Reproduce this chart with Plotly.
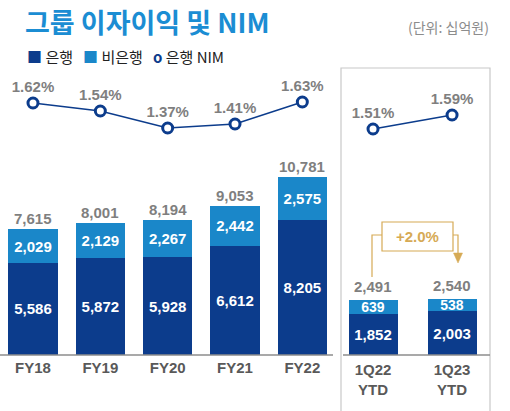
import plotly.graph_objects as go

# ---------------- data ----------------
fy_labels = ["FY18", "FY19", "FY20", "FY21", "FY22"]
fy_bank = [5586, 5872, 5928, 6612, 8205]
fy_nonbank = [2029, 2129, 2267, 2442, 2575]
fy_total = [7615, 8001, 8194, 9053, 10781]
fy_nim = [1.62, 1.54, 1.37, 1.41, 1.63]

q_labels = ["1Q22<br>YTD", "1Q23<br>YTD"]
q_bank = [1852, 2003]
q_nonbank = [639, 538]
q_total = [2491, 2540]
q_nim = [1.51, 1.59]

growth_label = "+2.0%"

# ---------------- styles ----------------
W, H = 510, 411
C_BANK = "#0C3C8C"
C_NONBANK = "#1A87C9"
C_NIM = "#0C3C8C"
C_GRAY = "#7F7F7F"
C_TICK = "#595959"
C_GOLD = "#D6AA55"
C_TITLE = "#1B8DD3"
NUM_FONT = "Liberation Sans, Arial, sans-serif"
KR_FONT = "Noto Sans CJK KR, Noto Sans, sans-serif"


def px_x(p):
    return p / W


def px_y(p):
    return 1 - p / H


def fmt(v):
    return f"{v:,}"


fig = go.Figure()

bar_text_font = dict(color="white", size=15, family=NUM_FONT, weight="bold")
q_small_font = dict(color="white", size=14, family=NUM_FONT, weight="bold")
label_font = dict(color=C_GRAY, size=15, family=NUM_FONT, weight="bold")

# FY panel bars
fig.add_trace(go.Bar(
    x=fy_labels, y=fy_bank, xaxis="x", yaxis="y", width=0.73,
    marker=dict(color=C_BANK, line=dict(width=0)),
    text=[fmt(v) for v in fy_bank], textposition="inside", insidetextanchor="middle",
    constraintext="none", textfont=bar_text_font, hoverinfo="skip"))
fig.add_trace(go.Bar(
    x=fy_labels, y=fy_nonbank, xaxis="x", yaxis="y", width=0.73,
    marker=dict(color=C_NONBANK, line=dict(width=0)),
    text=[fmt(v) for v in fy_nonbank], textposition="inside", insidetextanchor="middle",
    constraintext="none", textfont=bar_text_font, hoverinfo="skip"))
fig.add_trace(go.Scatter(
    x=fy_labels, y=fy_nim, xaxis="x", yaxis="y2", mode="lines+markers+text",
    line=dict(color=C_NIM, width=1.5),
    marker=dict(symbol="circle", size=10, color="white", line=dict(color=C_NIM, width=3)),
    text=[f"{v:.2f}%" for v in fy_nim], textposition="top center",
    textfont=label_font, cliponaxis=False, hoverinfo="skip"))

# Quarter panel bars
fig.add_trace(go.Bar(
    x=q_labels, y=q_bank, xaxis="x2", yaxis="y3", width=0.62,
    marker=dict(color=C_BANK, line=dict(width=0)),
    text=[fmt(v) for v in q_bank], textposition="inside", insidetextanchor="middle",
    constraintext="none", textfont=bar_text_font, hoverinfo="skip"))
fig.add_trace(go.Bar(
    x=q_labels, y=q_nonbank, xaxis="x2", yaxis="y3", width=0.62,
    marker=dict(color=C_NONBANK, line=dict(width=0)),
    text=[fmt(v) for v in q_nonbank], textposition="inside", insidetextanchor="middle",
    constraintext="none", textfont=q_small_font, hoverinfo="skip"))
fig.add_trace(go.Scatter(
    x=q_labels, y=q_nim, xaxis="x2", yaxis="y4", mode="lines+markers+text",
    line=dict(color=C_NIM, width=1.5),
    marker=dict(symbol="circle", size=10, color="white", line=dict(color=C_NIM, width=3)),
    text=[f"{v:.2f}%" for v in q_nim], textposition="top center",
    textfont=label_font, cliponaxis=False, hoverinfo="skip"))

tickfont = dict(color=C_TICK, size=15, family=NUM_FONT, weight="bold")
ydom = [px_y(355), 1]

fig.update_layout(
    width=W, height=H, margin=dict(l=0, r=0, t=0, b=0),
    paper_bgcolor="white", plot_bgcolor="rgba(0,0,0,0)",
    showlegend=False, barmode="stack",
    xaxis=dict(domain=[0, px_x(336)], range=[-0.49, 4.5], type="category",
               showgrid=False, zeroline=False, showline=False, ticks="",
               tickfont=tickfont, anchor="y", ticklabelstandoff=2),
    yaxis=dict(domain=ydom, range=[0, 21515], visible=False, anchor="x"),
    yaxis2=dict(domain=ydom, range=[-0.90, 2.65], visible=False, overlaying="y", anchor="x"),
    xaxis2=dict(domain=[px_x(343), px_x(490)], range=[-0.38, 1.48], type="category",
                showgrid=False, zeroline=False, showline=False, ticks="",
                tickfont=tickfont, anchor="y3", ticklabelstandoff=4),
    yaxis3=dict(domain=ydom, range=[0, 16200], visible=False, anchor="x2"),
    yaxis4=dict(domain=ydom, range=[0.2186, 2.247], visible=False, overlaying="y3", anchor="x2"),
)

shapes = []
# baselines
shapes.append(dict(type="line", xref="paper", yref="paper", x0=0, x1=px_x(333),
                   y0=px_y(355), y1=px_y(355), line=dict(color="#8C8C8C", width=1.5)))
shapes.append(dict(type="line", xref="paper", yref="paper", x0=px_x(343), x1=px_x(490),
                   y0=px_y(355), y1=px_y(355), line=dict(color="#8C8C8C", width=1.5)))
# panel box
shapes.append(dict(type="rect", xref="paper", yref="paper", x0=px_x(341), x1=px_x(490),
                   y0=px_y(415), y1=px_y(68), line=dict(color="#C8C8C8", width=1.2),
                   fillcolor="rgba(0,0,0,0)", layer="below"))
# growth connector
shapes.append(dict(type="path", xref="paper", yref="paper",
                   path=f"M {px_x(372)},{px_y(277)} L {px_x(372)},{px_y(235)} L {px_x(382)},{px_y(235)}",
                   line=dict(color=C_GOLD, width=1.2)))
shapes.append(dict(type="path", xref="paper", yref="paper",
                   path=f"M {px_x(453)},{px_y(235)} L {px_x(458)},{px_y(235)} L {px_x(458)},{px_y(255)}",
                   line=dict(color=C_GOLD, width=1.2)))
shapes.append(dict(type="path", xref="paper", yref="paper",
                   path=f"M {px_x(453.5)},{px_y(253)} L {px_x(462.5)},{px_y(253)} L {px_x(458)},{px_y(263)} Z",
                   line=dict(color=C_GOLD, width=0.5), fillcolor=C_GOLD))
shapes.append(dict(type="rect", xref="paper", yref="paper", x0=px_x(382), x1=px_x(453),
                   y0=px_y(251), y1=px_y(222), line=dict(color=C_GOLD, width=1.2),
                   fillcolor="white"))
fig.update_layout(shapes=shapes)

annotations = [
    dict(xref="paper", yref="paper", x=px_x(23), y=px_y(21), xanchor="left", yanchor="middle",
         text="그룹 이자이익 및 NIM", showarrow=False,
         font=dict(family=KR_FONT, size=27, color=C_TITLE, weight="bold")),
    dict(xref="paper", yref="paper", x=px_x(491), y=px_y(27), xanchor="right", yanchor="middle",
         text="(단위: 십억원)", showarrow=False,
         font=dict(family=KR_FONT, size=14, color="#8C8C8C")),
    dict(xref="paper", yref="paper", x=px_x(25), y=px_y(57), xanchor="left", yanchor="middle",
         text=(f"<span style='color:{C_BANK}'>■</span> 은행   "
               f"<span style='color:{C_NONBANK}'>■</span> 비은행   "
               f"<span style='color:{C_NIM}'><b>o</b></span> 은행 NIM"),
         showarrow=False, font=dict(family=KR_FONT, size=15, color="#222222")),
    dict(xref="paper", yref="paper", x=px_x(417.5), y=px_y(237), xanchor="center", yanchor="middle",
         text=growth_label, showarrow=False,
         font=dict(family=NUM_FONT, size=15, color=C_GOLD, weight="bold")),
]
# total labels above stacks, positioned through the axes
for cat, tot in zip(fy_labels, fy_total):
    annotations.append(dict(xref="x", yref="y", x=cat, y=tot, xanchor="center", yanchor="bottom",
                            text=fmt(tot), showarrow=False, yshift=0, font=label_font))
for cat, tot in zip(q_labels, q_total):
    annotations.append(dict(xref="x2", yref="y3", x=cat, y=tot, xanchor="center", yanchor="bottom",
                            text=fmt(tot), showarrow=False, yshift=3, font=label_font))
fig.update_layout(annotations=annotations)

fig.write_html("out.html", config={"displayModeBar": False},
               post_script="document.body.style.margin='0';")
